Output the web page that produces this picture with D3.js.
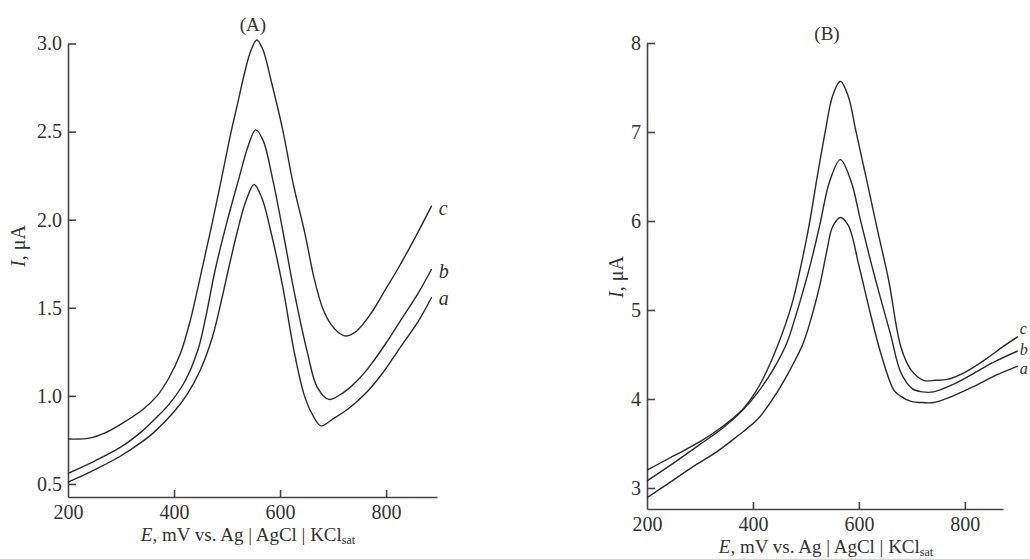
<!DOCTYPE html>
<html><head><meta charset="utf-8">
<script src="https://cdn.jsdelivr.net/npm/d3@7"></script>
<style>body{margin:0;background:#fff} svg{display:block}</style>
</head><body>
<svg id="chart" width="1030" height="559"></svg>
<script>
// ---------- DATA ----------
const xTicks = [200, 400, 600, 800];
const yTicksA = [0.5, 1.0, 1.5, 2.0, 2.5, 3.0];
const yTicksB = [3, 4, 5, 6, 7, 8];
const curveNames = ["a", "b", "c"];

// Panel A: [E (mV), I (µA)]
const A_a = [[200,0.51],[250,0.58],[300,0.66],[340,0.74],[361,0.79],[400,0.91],[425,1.01],[450,1.15],[472,1.33],[490,1.55],[505,1.75],[520,1.94],[535,2.10],[551,2.20],[566,2.12],[582,1.94],[605,1.62],[626,1.26],[645,1.01],[660,0.90],[677,0.83],[700,0.87],[730,0.93],[760,1.01],[791,1.12],[830,1.29],[860,1.42],[886,1.56]];
const A_b = [[200,0.56],[250,0.63],[300,0.71],[340,0.80],[361,0.86],[390,0.95],[420,1.08],[445,1.26],[460,1.45],[478,1.72],[501,2.00],[522,2.23],[540,2.42],[554,2.51],[568,2.45],[586,2.23],[605,1.94],[626,1.60],[652,1.24],[670,1.05],[692,0.98],[720,1.02],[750,1.10],[772,1.18],[800,1.30],[830,1.44],[860,1.58],[886,1.72]];
const A_c = [[200,0.755],[240,0.76],[270,0.79],[300,0.84],[340,0.92],[368,1.00],[390,1.10],[412,1.24],[430,1.42],[444,1.60],[458,1.79],[472,1.98],[490,2.24],[507,2.49],[520,2.66],[532,2.82],[545,2.96],[556,3.02],[567,2.97],[583,2.79],[605,2.51],[625,2.20],[647,1.92],[664,1.67],[680,1.50],[695,1.41],[710,1.36],[725,1.34],[745,1.37],[772,1.47],[800,1.61],[822,1.72],[855,1.90],[886,2.08]];

// Panel B: [E (mV), I (µA)]
const B_a = [[200,2.89],[240,3.05],[287,3.24],[330,3.40],[370,3.58],[410,3.78],[445,4.07],[472,4.35],[495,4.63],[512,4.95],[527,5.30],[540,5.68],[550,5.93],[565,6.04],[580,5.95],[600,5.50],[620,5.00],[641,4.52],[666,4.10],[679,4.03],[700,3.97],[720,3.96],[741,3.96],[780,4.04],[820,4.15],[860,4.27],[900,4.37]];
const B_b = [[200,3.08],[250,3.28],[300,3.49],[340,3.66],[380,3.87],[410,4.08],[440,4.35],[464,4.63],[480,4.92],[495,5.22],[510,5.55],[526,5.95],[545,6.45],[565,6.69],[585,6.45],[603,6.01],[620,5.60],[640,5.15],[660,4.72],[679,4.30],[700,4.12],[720,4.08],[741,4.08],[780,4.17],[820,4.30],[860,4.43],[900,4.54]];
const B_c = [[200,3.20],[250,3.36],[300,3.52],[340,3.68],[380,3.88],[405,4.08],[425,4.30],[448,4.62],[462,4.85],[476,5.12],[490,5.48],[505,5.92],[522,6.52],[537,7.02],[550,7.40],[565,7.57],[580,7.40],[594,7.02],[615,6.45],[635,5.90],[656,5.34],[679,4.59],[698,4.33],[722,4.21],[745,4.21],[767,4.22],[800,4.30],[840,4.45],[870,4.58],[900,4.70]];

// ---------- DRAW ----------
const svg = d3.select("#chart");
const FONT = "'Liberation Serif','Times New Roman',serif";
const INK = "#333";

function panel(cfg) {
  const x = d3.scaleLinear().domain(cfg.xDomain).range(cfg.xRange);
  const y = d3.scaleLinear().domain(cfg.yDomain).range(cfg.yRange);
  const g = svg.append("g");

  const xAxis = d3.axisBottom(x).tickValues(xTicks).tickFormat(d3.format("d"))
    .tickSizeInner(-7).tickSizeOuter(0).tickPadding(8);
  const gx = g.append("g").attr("transform", `translate(0,${cfg.yRange[0]})`).call(xAxis);

  const yAxis = d3.axisLeft(y).tickValues(cfg.yTicks).tickFormat(cfg.yFormat)
    .tickSizeInner(-8).tickSizeOuter(0).tickPadding(6);
  const gy = g.append("g").attr("transform", `translate(${cfg.xRange[0]},0)`).call(yAxis);

  [gx, gy].forEach(a => {
    a.select(".domain").attr("stroke", "#444").attr("stroke-width", 1.6);
    a.selectAll(".tick line").attr("stroke", "#444").attr("stroke-width", 1.6);
    a.selectAll(".tick text").attr("fill", INK).style("font-family", FONT).style("font-size", "20px");
  });
  gx.selectAll(".tick").filter(d => d === 200).select("line").remove();

  const line = d3.line().x(d => x(d[0])).y(d => y(d[1])).curve(d3.curveCatmullRom.alpha(0.5));
  cfg.curves.forEach((c) => {
    g.append("path").datum(c).attr("d", line)
      .attr("fill", "none").attr("stroke", "#2a2a2a").attr("stroke-width", 1.4);
  });
  cfg.curves.forEach((c, i) => {
    const last = c[c.length - 1];
    g.append("text").attr("x", x(last[0]) + cfg.labelDx).attr("y", y(last[1]) + cfg.labelDy[i])
      .text(curveNames[i]).attr("fill", INK).style("font-family", FONT)
      .style("font-style", "italic").style("font-size", cfg.labelSize);
  });

  g.append("text").attr("x", cfg.titlePos[0]).attr("y", cfg.titlePos[1]).attr("text-anchor", "middle")
    .text(cfg.title).attr("fill", INK).style("font-family", FONT).style("font-size", "19px");

  const yl = g.append("text").attr("transform", `translate(${cfg.yLabelPos[0]},${cfg.yLabelPos[1]}) rotate(-90)`)
    .attr("text-anchor", "middle").attr("fill", INK).style("font-family", FONT).style("font-size", "20px");
  yl.append("tspan").style("font-style", "italic").text("I");
  yl.append("tspan").text(", μA");

  const xl = g.append("text").attr("x", cfg.xLabelPos[0]).attr("y", cfg.xLabelPos[1])
    .attr("text-anchor", "middle").attr("fill", INK).style("font-family", FONT).style("font-size", "19px");
  xl.append("tspan").style("font-style", "italic").text("E");
  xl.append("tspan").text(", mV vs. Ag | AgCl | KCl");
  xl.append("tspan").attr("dy", 3).style("font-size", "12px").text("sat");
}

panel({
  xDomain: [200, 896], xRange: [68, 437],
  yDomain: [0.426, 3.0], yRange: [497, 43.5],
  yTicks: yTicksA, yFormat: d3.format(".1f"),
  curves: [A_a, A_b, A_c],
  labelDx: 7, labelDy: [8, 9, 9], labelSize: "20px",
  title: "(A)", titlePos: [253, 31],
  yLabelPos: [25, 246],
  xLabelPos: [248, 541]
});

panel({
  xDomain: [200, 872], xRange: [647, 1003],
  yDomain: [2.764, 8], yRange: [509, 43],
  yTicks: yTicksB, yFormat: d3.format("d"),
  curves: [B_a, B_b, B_c],
  labelDx: 2, labelDy: [8, 4, -3], labelSize: "16px",
  title: "(B)", titlePos: [827, 40],
  yLabelPos: [623, 277],
  xLabelPos: [826, 553]
});
</script>
</body></html>
